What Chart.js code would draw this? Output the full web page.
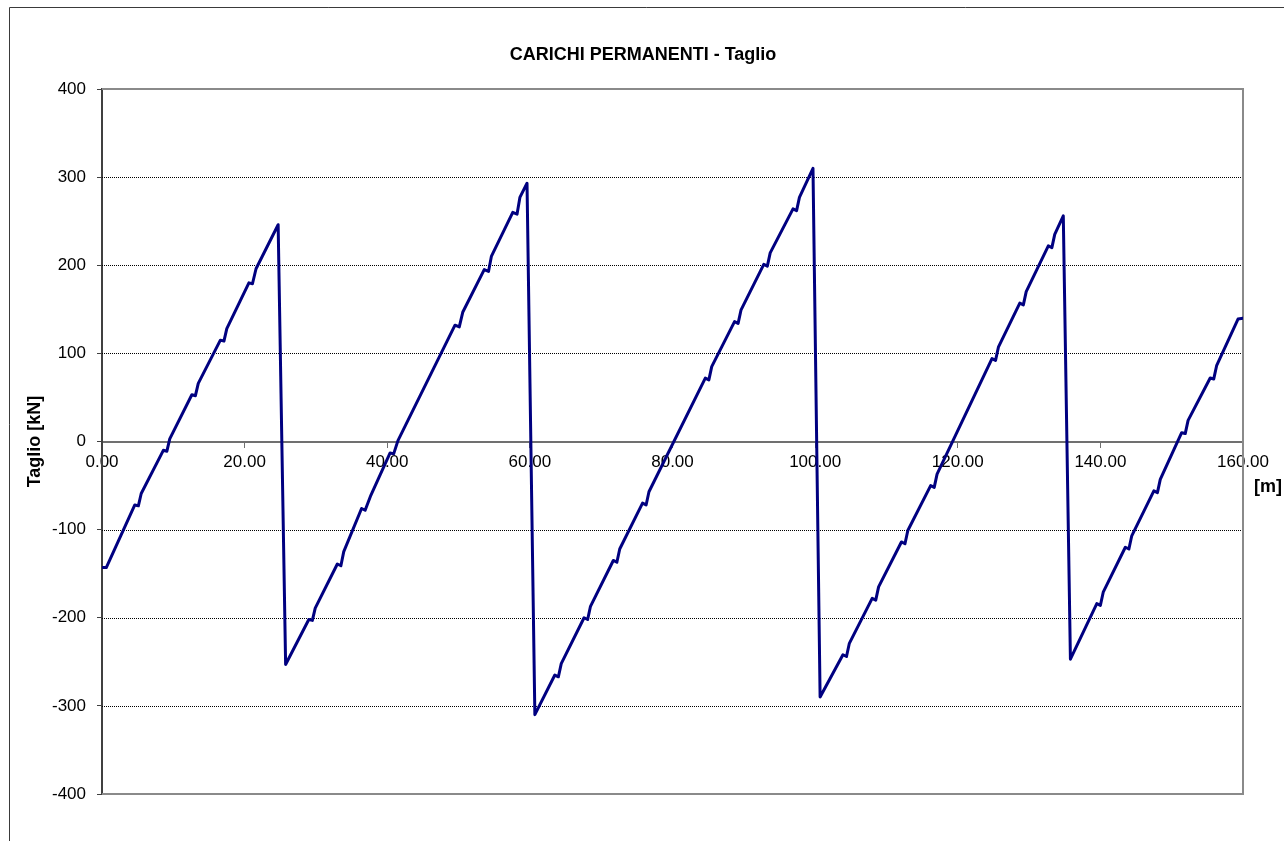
<!DOCTYPE html>
<html>
<head>
<meta charset="utf-8">
<title>Carichi permanenti - Taglio</title>
<script src="https://cdn.jsdelivr.net/npm/chart.js@4.4.1/dist/chart.umd.min.js"></script>
<style>
  html, body { margin: 0; padding: 0; background: #fff; overflow: hidden; }
  canvas { display: block; }
</style>
</head>
<body>
<canvas id="taglio" width="1284" height="841"></canvas>
<script>
// Shear under permanent loads along the continuous deck (spans 25 + 35 + 40 + 35 + 25 m).
// One pair of arrays per span: station along the deck [m] and shear [kN].
const span1X = [0, 0.6, 4.6, 5.1, 5.5, 8.6, 9.1, 9.5, 12.6, 13.1, 13.5, 16.6, 17.1, 17.5, 20.6, 21.1, 21.6, 24.7];
const span1V = [-143, -143, -72, -73, -59, -10, -11, 3, 53, 52, 66, 115, 114, 128, 180, 179, 196, 246];

const span2X = [25.75, 29.0, 29.5, 29.9, 33.0, 33.5, 33.9, 36.4, 36.9, 37.7, 40.4, 40.9, 41.5, 49.5, 50.1, 50.6, 53.6, 54.2, 54.6, 57.6, 58.2, 58.6, 59.6];
const span2V = [-253, -202, -203, -189, -139, -141, -125, -76, -78, -61, -13, -14, 1, 132, 130, 147, 195, 193, 210, 260, 258, 277, 293];

const span3X = [60.7, 63.5, 64.0, 64.4, 67.6, 68.1, 68.5, 71.7, 72.2, 72.6, 75.8, 76.3, 76.7, 84.6, 85.1, 85.5, 88.7, 89.2, 89.6, 92.8, 93.3, 93.7, 96.9, 97.4, 97.8, 99.7];
const span3V = [-310, -265, -267, -252, -200, -202, -187, -135, -137, -122, -70, -72, -57, 72, 70, 85, 136, 134, 149, 201, 199, 214, 264, 262, 277, 310];

const span4X = [100.7, 103.9, 104.4, 104.8, 108.0, 108.5, 108.9, 112.1, 112.6, 113.0, 116.2, 116.7, 117.1, 124.8, 125.3, 125.7, 128.7, 129.2, 129.6, 132.7, 133.2, 133.6, 134.8];
const span4V = [-290, -242, -244, -229, -178, -180, -165, -114, -116, -101, -50, -52, -37, 94, 92, 107, 157, 155, 170, 222, 220, 235, 256];

const span5X = [135.8, 139.5, 140.0, 140.4, 143.5, 144.0, 144.4, 147.5, 148.0, 148.4, 151.4, 151.9, 152.3, 155.4, 155.9, 156.3, 159.3, 160];
const span5V = [-247, -184, -186, -171, -120, -122, -107, -56, -58, -43, 10, 9, 24, 72, 71, 86, 139, 140];

// axis ticks
const xTickValues = [0, 20, 40, 60, 80, 100, 120, 140, 160];
const yTickValues = [-400, -300, -200, -100, 0, 100, 200, 300, 400];

const TITLE = 'CARICHI PERMANENTI - Taglio';
const FONT = "'Liberation Sans', Arial, sans-serif";

// join the spans into a single polyline, the drops at the supports come for free
const spansX = [span1X, span2X, span3X, span4X, span5X];
const spansV = [span1V, span2V, span3V, span4V, span5V];
const points = [];
spansX.forEach((xs, i) => {
  xs.forEach((x, j) => points.push({ x: x, y: spansV[i][j] }));
});

/**
 * Frame, dotted gridlines and the free texts (title, unit of the x axis)
 */
const chartFrame = {
  id: 'chartFrame',
  beforeDraw(chart) {
    const ctx = chart.ctx;
    ctx.save();
    ctx.fillStyle = '#fff';
    ctx.fillRect(0, 0, chart.width, chart.height);
    // outer border of the chart object
    ctx.strokeStyle = '#3a3a3a';
    ctx.lineWidth = 1;
    ctx.beginPath();
    ctx.moveTo(9.5, chart.height);
    ctx.lineTo(9.5, 7.5);
    ctx.lineTo(chart.width, 7.5);
    ctx.stroke();
    ctx.restore();
  },
  beforeDatasetsDraw(chart) {
    const { ctx, chartArea: a, scales: { y } } = chart;
    ctx.save();
    ctx.strokeStyle = '#000';
    ctx.lineWidth = 1;
    ctx.setLineDash([1, 1]);
    y.ticks.forEach(t => {
      if (t.value === 0 || t.value === y.min || t.value === y.max) return;
      const py = Math.round(y.getPixelForValue(t.value)) + 0.5;
      ctx.beginPath();
      ctx.moveTo(a.left, py);
      ctx.lineTo(a.right, py);
      ctx.stroke();
    });
    ctx.setLineDash([]);
    // plot area: top, right and bottom sides
    ctx.strokeStyle = '#8a8a8a';
    ctx.lineWidth = 2;
    ctx.beginPath();
    ctx.moveTo(a.left, a.top);
    ctx.lineTo(a.right, a.top);
    ctx.lineTo(a.right, a.bottom);
    ctx.lineTo(a.left, a.bottom);
    ctx.stroke();
    ctx.restore();
  },
  afterDraw(chart) {
    const ctx = chart.ctx;
    ctx.save();
    ctx.fillStyle = '#000';
    ctx.textAlign = 'center';
    ctx.textBaseline = 'middle';
    ctx.font = 'bold 18px ' + FONT;
    ctx.fillText(TITLE, 643, 55);
    ctx.fillText('[m]', 1268, 487);
    ctx.restore();
  }
};

const ctx = document.getElementById('taglio').getContext('2d');

new Chart(ctx, {
  type: 'line',
  data: {
    datasets: [{
      label: 'Taglio',
      data: points,
      borderColor: '#000080',
      borderWidth: 3,
      borderJoinStyle: 'round',
      borderCapStyle: 'round',
      pointRadius: 0,
      tension: 0,
      fill: false
    }]
  },
  options: {
    responsive: false,
    animation: false,
    devicePixelRatio: 1,
    layout: {
      padding: { left: 0, top: 89, right: 41, bottom: 47 }
    },
    plugins: {
      legend: { display: false },
      tooltip: { enabled: false },
      title: { display: false }
    },
    scales: {
      x: {
        type: 'linear',
        position: { y: 0 },
        min: 0,
        max: 160,
        afterBuildTicks: scale => {
          scale.ticks = xTickValues.map(v => ({ value: v }));
        },
        ticks: {
          callback: v => v.toFixed(2),
          color: '#000',
          font: { family: FONT, size: 17 },
          padding: 6,
          maxRotation: 0,
          autoSkip: false
        },
        grid: {
          display: true,
          drawOnChartArea: false,
          drawTicks: true,
          tickLength: 5,
          tickColor: '#707070',
          tickWidth: 1
        },
        border: { display: true, color: '#707070', width: 2 }
      },
      y: {
        type: 'linear',
        position: 'left',
        min: -400,
        max: 400,
        afterBuildTicks: scale => {
          scale.ticks = yTickValues.map(v => ({ value: v }));
        },
        afterFit: scale => {
          scale.width = 102;
        },
        ticks: {
          color: '#000',
          font: { family: FONT, size: 17 },
          padding: 11
        },
        grid: {
          display: true,
          drawOnChartArea: false,
          drawTicks: true,
          tickLength: 5,
          tickColor: '#404040',
          tickWidth: 1
        },
        border: { display: true, color: '#404040', width: 2 },
        title: {
          display: true,
          text: 'Taglio [kN]',
          color: '#000',
          font: { family: FONT, size: 18, weight: 'bold' },
          padding: { top: 24, bottom: 0 }
        }
      }
    }
  },
  plugins: [chartFrame]
});
</script>
</body>
</html>
